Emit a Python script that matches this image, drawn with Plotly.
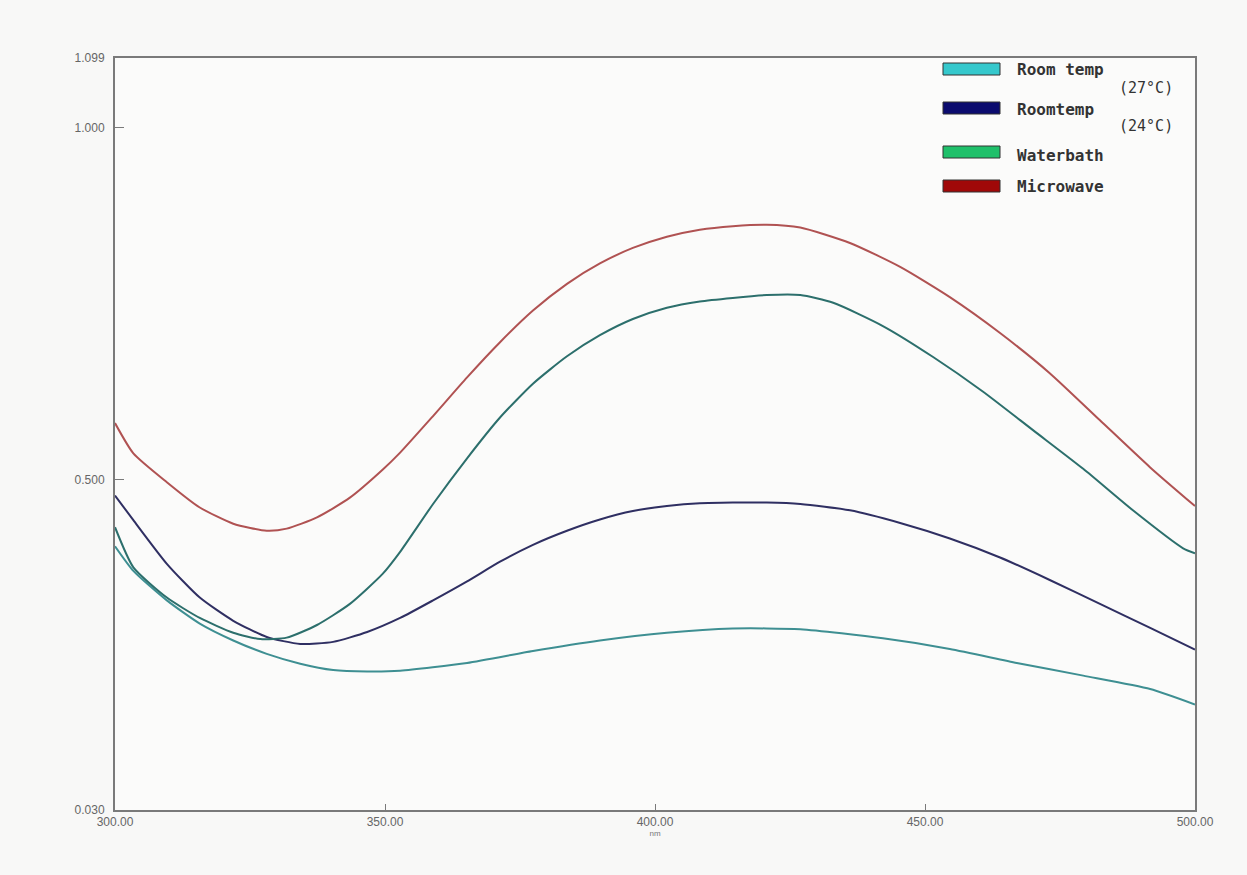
import plotly.graph_objects as go

# ---- data (wavelength nm, absorbance) ----
mw_x = [300, 303.4, 309.6, 315.7, 321.9, 328.1, 331.8, 337.4, 343.5, 349.6, 352.8, 358.9, 365.2, 371.3,
        377.4, 383.7, 389.8, 395.9, 402.2, 408.3, 414.4, 420.7, 426.9, 436.1, 445.4, 454.6, 463.9, 473.1,
        482.4, 491.7, 500]
mw_y = [0.580, 0.537, 0.496, 0.460, 0.437, 0.427, 0.430, 0.446, 0.474, 0.514, 0.538, 0.590, 0.645, 0.695,
        0.740, 0.778, 0.807, 0.829, 0.845, 0.855, 0.860, 0.862, 0.858, 0.836, 0.802, 0.759, 0.708, 0.651,
        0.584, 0.517, 0.462]

wb_x = [300, 303.4, 309.6, 315.7, 321.9, 326.9, 331.8, 337.4, 343.5, 349.6, 352.8, 358.9, 365.2, 371.3,
        377.4, 383.7, 389.8, 395.9, 402.2, 408.3, 414.4, 420.7, 426.9, 433.0, 442.2, 451.5, 460.7, 470.0,
        479.3, 488.5, 497.8, 500]
wb_y = [0.432, 0.375, 0.332, 0.303, 0.282, 0.273, 0.275, 0.293, 0.323, 0.366, 0.397, 0.465, 0.530, 0.588,
        0.636, 0.675, 0.705, 0.728, 0.744, 0.753, 0.758, 0.762, 0.762, 0.751, 0.718, 0.674, 0.625, 0.570,
        0.515, 0.456, 0.402, 0.395]

rt2_x = [300, 303.4, 309.6, 315.7, 321.9, 328.1, 334.3, 340.4, 346.7, 352.8, 358.9, 365.2, 371.3, 377.4,
         383.7, 389.8, 395.9, 402.2, 408.3, 414.4, 420.7, 426.9, 436.1, 445.4, 454.6, 463.9, 473.1, 482.4,
         491.7, 500]
rt2_y = [0.477, 0.442, 0.380, 0.332, 0.299, 0.276, 0.266, 0.269, 0.283, 0.303, 0.328, 0.355, 0.383, 0.407,
         0.427, 0.443, 0.455, 0.462, 0.466, 0.467, 0.467, 0.465, 0.456, 0.438, 0.416, 0.389, 0.357, 0.323,
         0.289, 0.258]

rt1_x = [300, 303.4, 309.6, 315.7, 321.9, 328.1, 334.3, 340.4, 346.7, 352.8, 365.2, 377.4, 389.8, 402.2,
         414.4, 426.9, 442.2, 454.6, 467.0, 479.3, 491.7, 500]
rt1_y = [0.405, 0.370, 0.328, 0.295, 0.271, 0.252, 0.238, 0.229, 0.227, 0.228, 0.239, 0.256, 0.271, 0.282,
         0.288, 0.287, 0.274, 0.259, 0.239, 0.221, 0.202, 0.180]

y_tick_vals = [0.030, 0.500, 1.000, 1.099]
y_tick_text = ["0.030", "0.500", "1.000", "1.099"]
x_tick_vals = [300, 350, 400, 450, 500]
x_tick_text = ["300.00", "350.00", "400.00", "450.00", "500.00"]

legend_labels = ["Room temp", "Roomtemp", "Waterbath", "Microwave"]
legend_sub = ["(27°C)", "(24°C)", "", ""]
legend_colors = ["#35c8cc", "#0b0b6e", "#1fc06a", "#a00808"]

fig = go.Figure()
series = [
    (rt1_x, rt1_y, "#3e8f92", "Room temp (27°C)"),
    (rt2_x, rt2_y, "#2f2f62", "Roomtemp (24°C)"),
    (wb_x, wb_y, "#2c6f6c", "Waterbath"),
    (mw_x, mw_y, "#b05252", "Microwave"),
]
for xs, ys, col, name in series:
    fig.add_trace(go.Scatter(x=xs, y=ys, mode="lines", name=name,
                             line=dict(color=col, width=2, shape="spline", smoothing=0.6),
                             showlegend=False))

axis_font = dict(family="Liberation Sans, Arial", size=12, color="#666666")
fig.update_xaxes(range=[300, 500], tickvals=x_tick_vals, ticktext=x_tick_text,
                 showgrid=False, zeroline=False, showline=True, linecolor="#7a7a7a", linewidth=2,
                 mirror=True, ticks="inside", ticklen=6, tickcolor="#7a7a7a", tickfont=axis_font,
                 title=dict(text="nm", font=dict(family="Liberation Sans, Arial", size=8, color="#777777"),
                            standoff=0))
fig.update_yaxes(range=[0.030, 1.099], tickvals=y_tick_vals, ticktext=y_tick_text,
                 showgrid=False, zeroline=False, showline=True, linecolor="#7a7a7a", linewidth=2,
                 mirror=True, ticks="inside", ticklen=9, tickcolor="#7a7a7a", tickfont=axis_font,
                 ticklabelstandoff=6)

# legend drawn as swatches + text (paper coords)
W, H = 1247, 875
L, R, T, B = 115, 1195, 58, 810
def px(x):
    return (x - L) / (R - L)
def py(y):
    return (B - y) / (B - T)

sw_y = [69, 108, 152, 186]
txt_y = [69, 109, 155, 186]
sub_y = [88, 126]
lfont = dict(family="DejaVu Sans Mono", size=16, color="#333333", weight="bold")
sfont = dict(family="DejaVu Sans Mono", size=15, color="#333333")
for i, (lab, col, sy, ty) in enumerate(zip(legend_labels, legend_colors, sw_y, txt_y)):
    fig.add_shape(type="rect", xref="paper", yref="paper",
                  x0=px(943), x1=px(1000), y0=py(sy + 6), y1=py(sy - 6),
                  fillcolor=col, line=dict(color="#333333", width=1))
    fig.add_annotation(xref="paper", yref="paper", x=px(1015), y=py(ty), text=lab,
                       showarrow=False, xanchor="left", yanchor="middle", align="left",
                       font=lfont)
    if legend_sub[i]:
        fig.add_annotation(xref="paper", yref="paper", x=px(1175), y=py(sub_y[i]), text=legend_sub[i],
                           showarrow=False, xanchor="right", yanchor="middle", align="right",
                           font=sfont)

fig.update_layout(width=W, height=H,
                  margin=dict(l=L, r=W - R, t=T, b=H - B),
                  paper_bgcolor="#f8f8f7", plot_bgcolor="#fbfbfa")

fig.write_html("out.html")
